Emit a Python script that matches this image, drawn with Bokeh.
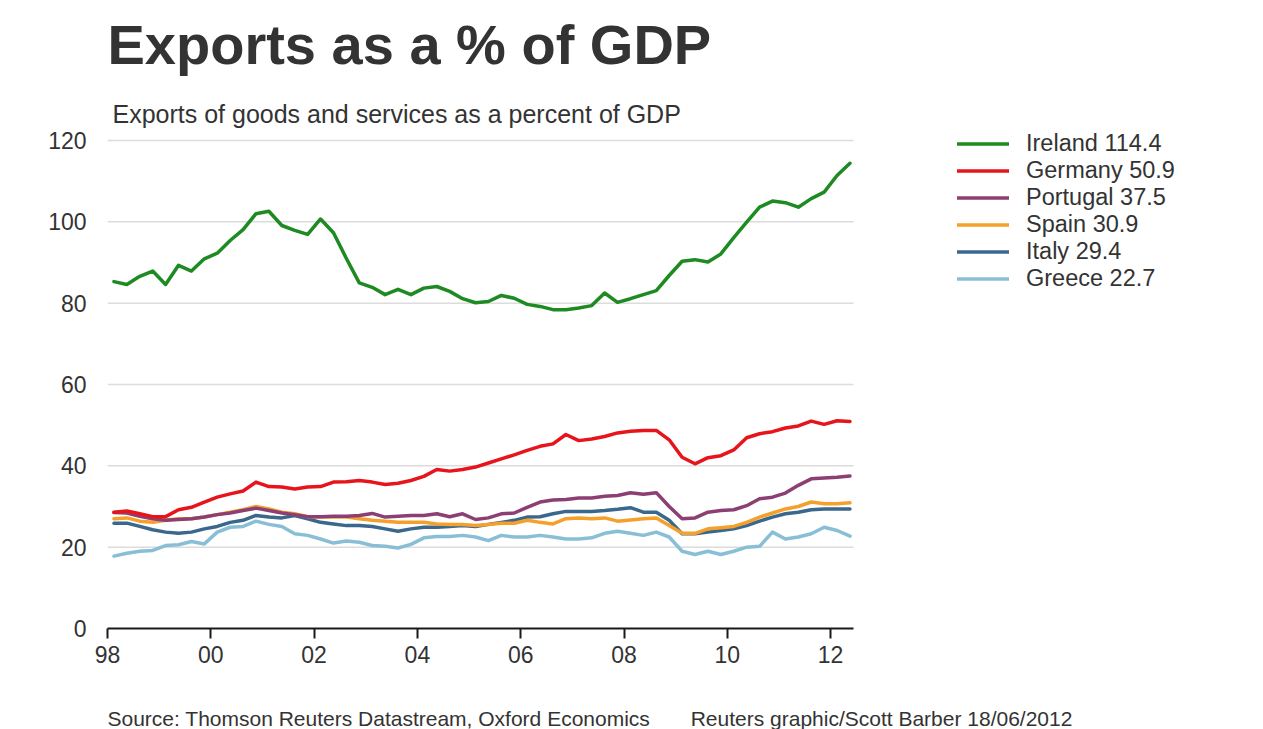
from bokeh.plotting import figure
from bokeh.models import (Range1d, FixedTicker, Legend, LegendItem,
                          ColumnDataSource, Title, Label)
from bokeh.embed import file_html
from bokeh.resources import INLINE

# ---------------- data (quarterly, 1998 Q1 .. 2012 Q2) ----------------
quarters = [f"{y}Q{q}" for y in range(1998, 2013) for q in range(1, 5)][:58]

ireland = [85.3, 84.6, 86.6, 87.9, 84.6, 89.3, 87.9, 90.9, 92.3, 95.4,
           98.1, 102.0, 102.6, 99.1, 97.9, 96.9, 100.7, 97.3, 91.0, 85.0,
           83.9, 82.1, 83.4, 82.1, 83.7, 84.1, 82.9, 81.1, 80.1, 80.4,
           81.9, 81.2, 79.7, 79.2, 78.4, 78.4, 78.8, 79.4, 82.5, 80.2,
           81.1, 82.1, 83.1, 86.8, 90.3, 90.7, 90.1, 92.1, 96.1, 99.9,
           103.6, 105.1, 104.7, 103.6, 105.7, 107.3, 111.4, 114.4]
germany = [28.6, 28.9, 28.2, 27.5, 27.5, 29.2, 29.8, 31.1, 32.3, 33.1,
           33.8, 36.0, 34.9, 34.8, 34.3, 34.8, 34.9, 36.0, 36.1, 36.4,
           36.0, 35.4, 35.7, 36.4, 37.4, 39.1, 38.7, 39.1, 39.7, 40.7,
           41.7, 42.7, 43.8, 44.8, 45.4, 47.7, 46.2, 46.6, 47.2, 48.1,
           48.5, 48.7, 48.7, 46.4, 42.1, 40.5, 42.0, 42.5, 43.9, 46.9,
           47.9, 48.4, 49.3, 49.8, 51.0, 50.2, 51.1, 50.9]
portugal = [28.5, 28.4, 27.6, 27.0, 26.6, 26.8, 27.0, 27.4, 28.0, 28.4,
            29.0, 29.6, 29.0, 28.4, 28.0, 27.5, 27.5, 27.6, 27.6, 27.8,
            28.3, 27.4, 27.6, 27.8, 27.8, 28.2, 27.5, 28.2, 26.8, 27.2,
            28.2, 28.4, 29.8, 31.1, 31.6, 31.7, 32.1, 32.1, 32.5, 32.7,
            33.4, 33.0, 33.4, 30.0, 27.0, 27.2, 28.6, 29.0, 29.2, 30.2,
            31.9, 32.3, 33.3, 35.2, 36.8, 37.0, 37.2, 37.5]
spain = [27.0, 27.2, 26.4, 26.1, 26.6, 27.0, 27.0, 27.4, 28.0, 28.6,
         29.2, 30.0, 29.4, 28.6, 28.2, 27.5, 27.4, 27.5, 27.4, 27.0,
         26.6, 26.4, 26.1, 26.1, 26.1, 25.7, 25.6, 25.6, 25.3, 25.6,
         25.9, 25.9, 26.6, 26.1, 25.7, 27.0, 27.2, 27.0, 27.2, 26.4,
         26.7, 27.0, 27.2, 25.3, 23.4, 23.4, 24.5, 24.8, 25.1, 26.1,
         27.4, 28.4, 29.4, 30.0, 31.1, 30.7, 30.7, 30.9]
italy = [25.9, 25.9, 25.1, 24.3, 23.7, 23.4, 23.7, 24.5, 25.1, 26.1,
         26.6, 27.8, 27.4, 27.2, 27.8, 27.0, 26.1, 25.7, 25.3, 25.3,
         25.1, 24.5, 23.9, 24.5, 24.9, 24.9, 25.1, 25.3, 25.1, 25.6,
         26.1, 26.6, 27.4, 27.5, 28.2, 28.8, 28.8, 28.8, 29.0, 29.3,
         29.7, 28.6, 28.6, 26.6, 23.3, 23.3, 23.7, 24.1, 24.5, 25.3,
         26.4, 27.4, 28.2, 28.6, 29.2, 29.4, 29.4, 29.4]
greece = [17.8, 18.5, 19.0, 19.2, 20.4, 20.6, 21.4, 20.8, 23.7, 24.9,
          25.1, 26.4, 25.6, 25.1, 23.3, 22.9, 22.0, 21.0, 21.5, 21.2,
          20.4, 20.2, 19.8, 20.7, 22.3, 22.6, 22.6, 22.9, 22.5, 21.6,
          22.9, 22.5, 22.5, 22.9, 22.5, 22.0, 22.0, 22.3, 23.4, 23.9,
          23.4, 22.9, 23.7, 22.5, 19.0, 18.2, 19.0, 18.2, 19.0, 20.0,
          20.2, 23.7, 22.0, 22.5, 23.3, 24.9, 24.1, 22.7]

countries = ["Ireland", "Germany", "Portugal", "Spain", "Italy", "Greece"]
latest = ["114.4", "50.9", "37.5", "30.9", "29.4", "22.7"]
series = [ireland, germany, portugal, spain, italy, greece]
colors = ["#1e8a22", "#e8141c", "#8c3f72", "#f4a02a", "#3a678c", "#88bfd6"]

x_ticks = [1998, 2000, 2002, 2004, 2006, 2008, 2010, 2012]
x_tick_labels = ["98", "00", "02", "04", "06", "08", "10", "12"]
y_ticks = [0, 20, 40, 60, 80, 100, 120]

title_text = "Exports as a % of GDP"
subtitle_text = "Exports of goods and services as a percent of GDP"
source_text = "Source: Thomson Reuters Datastream, Oxford Economics"
credit_text = "Reuters graphic/Scott Barber 18/06/2012"


def qpos(q):
    # quarter label -> decimal year at mid-quarter
    return int(q[:4]) + (int(q[-1]) - 1) * 0.25 + 0.125


xs = [qpos(q) for q in quarters]

# ---------------- geometry ----------------
W, H = 1263, 729
FL, FB = 107, 628                 # frame left / bottom (px); frame top = 0
PLOT_TOP = 140                    # pixel row of the value 120
PX_PER_YEAR = 51.65
PX_PER_UNIT = (FB - PLOT_TOP) / 120.0
AXIS_END_PX = 853
X0 = 1998.0
X_AXIS_END = X0 + (AXIS_END_PX - FL) / PX_PER_YEAR
X1 = X0 + (W - FL) / PX_PER_YEAR
Y0 = 0
Y1 = FB / PX_PER_UNIT             # frame reaches the top of the canvas
FONT = "Liberation Sans"
TXT = "#333333"


def px2x(px):
    return X0 + (px - FL) / PX_PER_YEAR


def py2y(py):
    return (FB - py) / PX_PER_UNIT


p = figure(width=W, height=H, output_backend="svg", toolbar_location=None,
           title=None,
           x_range=Range1d(X0, X1), y_range=Range1d(Y0, Y1),
           min_border_left=FL, min_border_right=0,
           min_border_top=0, min_border_bottom=H - FB)
p.outline_line_color = None
p.background_fill_color = "white"
p.border_fill_color = "white"

# axes
xa = p.xaxis[0]
xa.ticker = FixedTicker(ticks=x_ticks)
xa.bounds = (X0, X_AXIS_END)
xa.major_label_overrides = {t: l for t, l in zip(x_ticks, x_tick_labels)}
xa.axis_line_color = "#1a1a1a"
xa.axis_line_width = 2
xa.major_tick_line_color = "#1a1a1a"
xa.major_tick_line_width = 2
xa.major_tick_in = 0
xa.major_tick_out = 10
xa.minor_tick_line_color = None
xa.major_label_text_font = FONT
xa.major_label_text_font_size = "23px"
xa.major_label_text_color = TXT
xa.major_label_standoff = 7

ya = p.yaxis[0]
ya.ticker = FixedTicker(ticks=y_ticks)
ya.axis_line_color = None
ya.major_tick_line_color = None
ya.minor_tick_line_color = None
ya.major_label_text_font = FONT
ya.major_label_text_font_size = "23px"
ya.major_label_text_color = TXT
ya.major_label_standoff = 15

p.xgrid.grid_line_color = None
p.ygrid.grid_line_color = None

# horizontal grid lines limited to the plotting area
grid_y = y_ticks[1:]
p.segment(x0=[X0] * len(grid_y), x1=[X_AXIS_END] * len(grid_y),
          y0=grid_y, y1=grid_y, line_color="#dcdcdc", line_width=1.5)

# title + subtitle (inside the frame, which reaches the canvas top)
p.add_layout(Label(x=px2x(107), y=py2y(44), text=title_text,
                   text_font=FONT, text_font_size="56px", text_font_style="bold",
                   text_color=TXT, text_baseline="alphabetic"))
p.add_layout(Label(x=px2x(112), y=py2y(113), text=subtitle_text,
                   text_font=FONT, text_font_size="25px",
                   text_color=TXT, text_baseline="alphabetic"))

# footer: spacer panel, then source/credit line at the very bottom
spacer = Title(text="\u00a0", text_font_size="1px", standoff=36)
p.add_layout(spacer, "below")
gap = "\u00a0" * 7
foot = Title(text=source_text + gap + credit_text, align="left", offset=0,
             standoff=0, text_font=FONT, text_font_size="21px",
             text_font_style="normal", text_color=TXT)
p.add_layout(foot, "below")

# lines (draw bottom series first so Ireland/Germany on top)
renderers = {}
for name, vals, col in reversed(list(zip(countries, series, colors))):
    src = ColumnDataSource(dict(x=xs, y=vals))
    r = p.line("x", "y", source=src, line_color=col, line_width=3.5,
               line_join="round", line_cap="round")
    renderers[name] = r

items = [LegendItem(label=f"{n} {v}", renderers=[renderers[n]])
         for n, v in zip(countries, latest)]
legend = Legend(items=items, location=(850, 336),
                label_text_font=FONT, label_text_font_size="23.5px",
                label_text_color=TXT,
                label_height=27, glyph_height=27, glyph_width=52,
                label_standoff=17, spacing=0, padding=0, margin=0,
                border_line_color=None, background_fill_alpha=0)
p.add_layout(legend, "center")

open("out.html", "w").write(file_html(p, INLINE))
